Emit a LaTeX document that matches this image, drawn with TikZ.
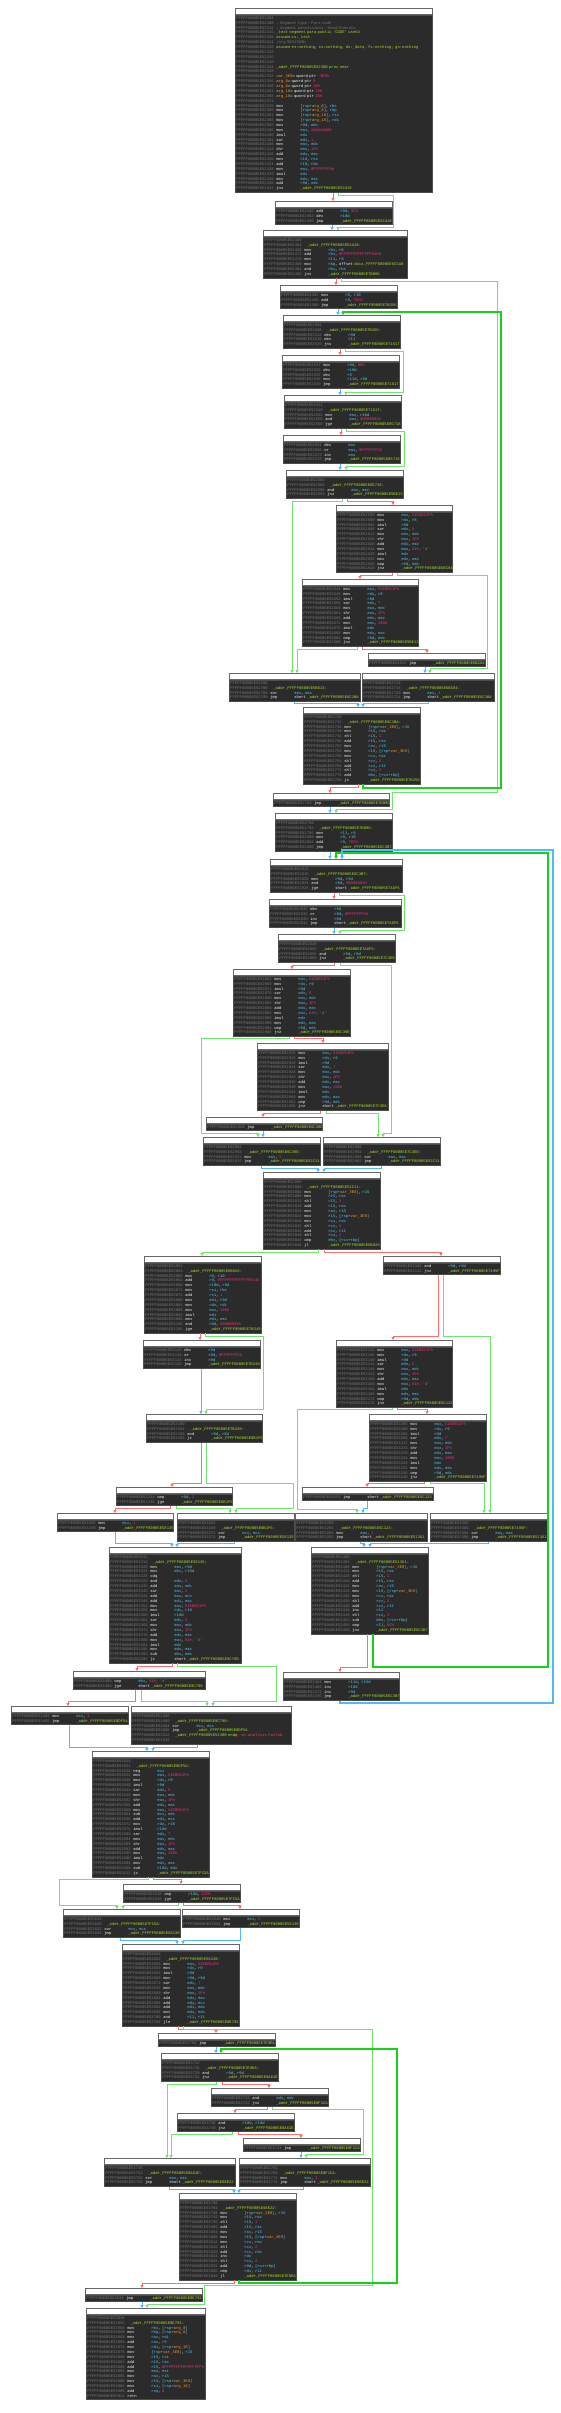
\documentclass[tikz,border=0pt]{standalone}
\usepackage{xcolor}
\usepackage{fontspec}
\setmonofont{Liberation Mono}
\usepackage{tikz}
\usetikzlibrary{arrows.meta}
\definecolor{codebg}{HTML}{2B2B2B}
\definecolor{adr}{HTML}{767676}
\definecolor{mnem}{HTML}{F0F0F0}
\definecolor{reg}{HTML}{52C8F5}
\definecolor{num}{HTML}{F0307A}
\definecolor{lbl}{HTML}{A6DC28}
\definecolor{var}{HTML}{FF9628}
\definecolor{cmtred}{HTML}{FF3C3C}
\definecolor{ered}{HTML}{FF6E6E}
\definecolor{egreen}{HTML}{6EE66E}
\definecolor{eloop}{HTML}{14D214}
\definecolor{eblue}{HTML}{50B9FF}

\newcommand\asmfont{\fontsize{3.9}{4.87}\selectfont\ttfamily}
\newcounter{lnum}
\newcommand\addrtxt{\stepcounter{lnum}\textcolor{adr}{FFFFF80005E5\the\numexpr2300+4*\value{lnum}\relax}}
\newcommand\Rg[1]{\textcolor{reg}{#1}}
\newcommand\Nm[1]{\textcolor{num}{#1}}
\newcommand\Vr[1]{\textcolor{var}{#1}}
\newcommand\Sp[1]{\Rg{[rsp+}\Vr{#1}\Rg{]}}
\newcommand\Ch[1]{\textcolor{adr}{ ; '#1'}}
\newcommand\Ad[1]{\textcolor{lbl}{\_addr\_FFFFF80005E#1}}
\newcommand\G{\mbox{\strut\addrtxt}}
\newcommand\In[2]{\mbox{\strut\makebox[40pt][l]{\addrtxt}\makebox[24pt][l]{\textcolor{mnem}{#1}}\textcolor{mnem}{#2}}}
\newcommand\Lb[1]{\mbox{\strut\makebox[43pt][l]{\addrtxt}\textcolor{lbl}{\_addr\_FFFFF80005E#1:}}}
\newcommand\Cm[1]{\mbox{\strut\makebox[40pt][l]{\addrtxt}\textcolor{adr}{#1}}}
\newcommand\Dr[1]{\mbox{\strut\makebox[40pt][l]{\addrtxt}\textcolor{lbl}{#1}}}
\newcommand\Dv[2]{\mbox{\strut\makebox[40pt][l]{\addrtxt}\textcolor{var}{#1}\textcolor{mnem}{= qword ptr }\textcolor{num}{#2}}}
\newcommand\Yr[5]{%
\In{mov}{\Rg{eax}, \Nm{51EB851Fh}}\\
\In{mov}{\Rg{rdx}, \Rg{#1}}\\
\In{imul}{\Rg{#2}}\\
\In{sar}{\Rg{edx}, \Nm{#3}}\\
\In{mov}{\Rg{eax}, \Rg{edx}}\\
\In{shr}{\Rg{eax}, \Nm{1Fh}}\\
\In{add}{\Rg{edx}, \Rg{eax}}\\
\In{mov}{\Rg{eax}, #4}\\
\In{imul}{\Rg{edx}}\\
\In{mov}{\Rg{edx}, \Rg{eax}}\\
\In{cmp}{\Rg{#2}, \Rg{edx}}\\
\In{jnz}{#5}}

\tikzset{
  titlebar/.style={draw=black!60, line width=0.6pt, fill=white, anchor=north west,
    minimum height=6pt, inner sep=0pt},
  blockbody/.style={draw=black!70, line width=0.7pt, fill=codebg, anchor=north west,
    inner xsep=1pt, inner ysep=1pt, align=left, font=\asmfont},
  redge/.style={->, draw=ered, line width=0.9pt},
  gedge/.style={->, draw=egreen, line width=0.9pt},
  bedge/.style={->, draw=eblue, line width=0.9pt},
  gloop/.style={->, draw=eloop, line width=1.5pt},
  bloop/.style={->, draw=eblue, line width=1.5pt}
}
\newcommand\blk[5]{%
  \node[titlebar, minimum width=#4pt] (#1h) at (#2,#3) {};
  \node[blockbody, text width=#4pt-2pt] (#1) at (#1h.south west) {#5};
}

\begin{document}
\begin{tikzpicture}[x=1pt, y=-1pt, >={Triangle[length=2.8pt,width=3pt]}, line join=miter]
  \fill[white] (0,0) rectangle (560,2413);
  \useasboundingbox (0,0) rectangle (560,2413);

  \blk{A}{235}{8}{197}{\G\\
    \Cm{; Segment type: Pure code}\\
    \Cm{; Segment permissions: Read/Execute}\\
    \Dr{\_text segment para public 'CODE' use64}\\
    \Dr{assume cs:\_text}\\
    \Cm{;org 5E52300h}\\
    \Dr{assume es:nothing, ss:nothing, ds:\_data, fs:nothing, gs:nothing}\\
    \G\\ \G\\ \G\\
    \Dr{\_addr\_FFFFF80005E52300 proc near}\\
    \G\\
    \Dv{var\_3E8}{-3E8h}\\
    \Dv{arg\_0}{ 8}\\
    \Dv{arg\_8}{ 10h}\\
    \Dv{arg\_10}{ 18h}\\
    \Dv{arg\_18}{ 20h}\\
    \G\\
    \In{mov}{\Sp{arg\_0}, \Rg{rbx}}\\
    \In{mov}{\Sp{arg\_8}, \Rg{rbp}}\\
    \In{mov}{\Sp{arg\_10}, \Rg{rsi}}\\
    \In{mov}{\Sp{arg\_18}, \Rg{rdi}}\\
    \In{mov}{\Rg{r9d}, \Rg{edx}}\\
    \In{mov}{\Rg{eax}, \Nm{2AAAAAABh}}\\
    \In{imul}{\Rg{edx}}\\
    \In{sar}{\Rg{edx}, \Nm{1}}\\
    \In{mov}{\Rg{eax}, \Rg{edx}}\\
    \In{shr}{\Rg{eax}, \Nm{1Fh}}\\
    \In{add}{\Rg{edx}, \Rg{eax}}\\
    \In{mov}{\Rg{r10}, \Rg{rcx}}\\
    \In{add}{\Rg{r10}, \Rg{rdx}}\\
    \In{mov}{\Rg{eax}, \Nm{0FFFFFFF4h}}\\
    \In{imul}{\Rg{edx}}\\
    \In{mov}{\Rg{edx}, \Rg{eax}}\\
    \In{add}{\Rg{r9d}, \Rg{edx}}\\
    \In{jns}{\Ad{52A18}}}
  \blk{B}{275}{201}{117}{\In{add}{\Rg{r9d}, \Nm{0Ch}}\\
    \In{dec}{\Rg{r10d}}\\
    \In{jmp}{\Ad{52A18}}}
  \blk{C}{263}{230}{144}{\G\\ \Lb{52A18}\\
    \In{mov}{\Rg{rbx}, \Rg{r8}}\\
    \In{add}{\Rg{rbx}, \Nm{0FFFFFFFFFFFFF830h}}\\
    \In{mov}{\Rg{r11}, \Rg{r9}}\\
    \In{mov}{\Rg{rbp}, offset \textcolor{lbl}{data\_FFFFF80005E6C5A0}}\\
    \In{and}{\Rg{rbx}, \Rg{rbx}}\\
    \In{jns}{\Ad{7B086}}}
  \blk{D}{280}{285}{117}{\In{mov}{\Rg{r8}, \Rg{r10}}\\
    \In{add}{\Rg{r8}, \Nm{7ECh}}\\
    \In{jmp}{\Ad{7B256}}}
  \blk{E}{283}{315}{117}{\G\\ \Lb{7B256}\\
    \In{dec}{\Rg{r9d}}\\
    \In{dec}{\Rg{r11}}\\
    \In{jns}{\Ad{71617}}}
  \blk{F}{282}{355}{117}{\In{mov}{\Rg{r9d}, \Nm{0Bh}}\\
    \In{dec}{\Rg{r10d}}\\
    \In{dec}{\Rg{r8}}\\
    \In{mov}{\Rg{r11d}, \Rg{r9d}}\\
    \In{jmp}{\Ad{71617}}}
  \blk{G}{284}{395}{117}{\G\\ \Lb{71617}\\
    \In{mov}{\Rg{eax}, \Rg{r10d}}\\
    \In{and}{\Rg{eax}, \Nm{80000003h}}\\
    \In{jge}{\Ad{05718}}}
  \blk{H}{283}{435}{117}{\In{dec}{\Rg{eax}}\\
    \In{or}{\Rg{eax}, \Nm{0FFFFFFFCh}}\\
    \In{inc}{\Rg{eax}}\\
    \In{jmp}{\Ad{05718}}}
  \blk{I}{286}{470}{117}{\G\\ \Lb{05718}\\
    \In{and}{\Rg{eax}, \Rg{eax}}\\
    \In{jnz}{\Ad{5BE13}}}
  \blk{J}{336}{505}{116}{\Yr{r8}{r8d}{5}{\Nm{64h}\Ch{d}}{\Ad{6BC84}}}
  \blk{K}{302}{579}{116}{\Yr{r8}{r8d}{7}{\Nm{190h}}{\Ad{5BE13}}}
  \blk{K2}{368}{653}{117}{\In{jmp}{\Ad{6BC84}}}
  \blk{L}{229}{673}{131}{\G\\ \Lb{5BE13}\\
    \In{xor}{\Rg{eax}, \Rg{eax}}\\
    \In{jmp}{short \Ad{6C1BA}}}
  \blk{M}{362}{673}{132}{\G\\ \Lb{6BC84}\\
    \In{mov}{\Rg{eax}, \Nm{1}}\\
    \In{jmp}{short \Ad{6C1BA}}}
  \blk{N}{303}{707}{117}{\G\\ \Lb{6C1BA}\\
    \In{mov}{\Sp{var\_3E8}, \Rg{r15}}\\
    \In{mov}{\Rg{r15}, \Rg{rax}}\\
    \In{shl}{\Rg{r15}, \Nm{1}}\\
    \In{add}{\Rg{r15}, \Rg{rax}}\\
    \In{mov}{\Rg{rax}, \Rg{r15}}\\
    \In{mov}{\Rg{r15}, \Sp{var\_3E8}}\\
    \In{mov}{\Rg{rcx}, \Rg{rax}}\\
    \In{shl}{\Rg{rcx}, \Nm{2}}\\
    \In{add}{\Rg{rcx}, \Rg{r11}}\\
    \In{shl}{\Rg{rcx}, \Nm{2}}\\
    \In{add}{\Rg{ebx}, \Rg{[rcx+rbp]}}\\
    \In{js}{\Ad{7B256}}}
  \blk{O}{273}{793}{116}{\In{jmp}{\Ad{7B086}}}
  \blk{P}{275}{813}{117}{\G\\ \Lb{7B086}\\
    \In{mov}{\Rg{r11}, \Rg{r9}}\\
    \In{mov}{\Rg{r9}, \Rg{r10}}\\
    \In{add}{\Rg{r9}, \Nm{7ECh}}\\
    \In{jmp}{\Ad{6C3B7}}}
  \blk{Q}{270}{859}{132}{\G\\ \Lb{6C3B7}\\
    \In{mov}{\Rg{r8d}, \Rg{r9d}}\\
    \In{and}{\Rg{r8d}, \Nm{80000003h}}\\
    \In{jge}{short \Ad{7A6F6}}}
  \blk{R}{269}{899}{132}{\In{dec}{\Rg{r8d}}\\
    \In{or}{\Rg{r8d}, \Nm{0FFFFFFFCh}}\\
    \In{inc}{\Rg{r8d}}\\
    \In{jmp}{short \Ad{7A6F6}}}
  \blk{S}{278}{934}{117}{\G\\ \Lb{7A6F6}\\
    \In{and}{\Rg{r8d}, \Rg{r8d}}\\
    \In{jnz}{\Ad{7C3E8}}}
  \blk{T}{233}{969}{117}{\Yr{r9}{r9d}{5}{\Nm{64h}\Ch{d}}{\Ad{6C39E}}}
  \blk{U}{257}{1043}{131}{\Yr{r9}{r9d}{7}{\Nm{190h}}{short \Ad{7C3E8}}}
  \blk{U2}{206}{1117}{116}{\In{jmp}{\Ad{6C39E}}}
  \blk{V1}{203}{1137}{117}{\G\\ \Lb{6C39E}\\
    \In{mov}{\Rg{eax}, \Nm{1}}\\
    \In{jmp}{\Ad{52C11}}}
  \blk{W2}{323}{1137}{117}{\G\\ \Lb{7C3E8}\\
    \In{xor}{\Rg{eax}, \Rg{eax}}\\
    \In{jmp}{\Ad{52C11}}}
  \blk{X}{263}{1172}{117}{\G\\ \Lb{52C11}\\
    \In{mov}{\Sp{var\_3E8}, \Rg{r15}}\\
    \In{mov}{\Rg{r15}, \Rg{rax}}\\
    \In{shl}{\Rg{r15}, \Nm{1}}\\
    \In{add}{\Rg{r15}, \Rg{rax}}\\
    \In{mov}{\Rg{rax}, \Rg{r15}}\\
    \In{mov}{\Rg{r15}, \Sp{var\_3E8}}\\
    \In{mov}{\Rg{rcx}, \Rg{rax}}\\
    \In{shl}{\Rg{rcx}, \Nm{2}}\\
    \In{add}{\Rg{rcx}, \Rg{r11}}\\
    \In{shl}{\Rg{rcx}, \Nm{2}}\\
    \In{cmp}{\Rg{ebx}, \Rg{[rcx+rbp]}}\\
    \In{jl}{\Ad{6B826}}}
  \blk{Y1}{144}{1256}{117}{\G\\ \Lb{6B826}\\
    \In{mov}{\Rg{r9}, \Rg{r10}}\\
    \In{add}{\Rg{r9}, \Nm{0FFFFFFFFFFFFF814h}}\\
    \In{mov}{\Rg{r10d}, \Rg{r9d}}\\
    \In{mov}{\Rg{rsi}, \Rg{rbx}}\\
    \In{add}{\Rg{rsi}, \Nm{1}}\\
    \In{mov}{\Rg{edi}, \Rg{r9d}}\\
    \In{mov}{\Rg{rdx}, \Rg{rdi}}\\
    \In{mov}{\Rg{eax}, \Nm{190h}}\\
    \In{imul}{\Rg{edi}}\\
    \In{mov}{\Rg{edi}, \Rg{eax}}\\
    \In{and}{\Rg{r8d}, \Nm{80000003h}}\\
    \In{jge}{\Ad{7B249}}}
  \blk{Y2}{383}{1256}{117}{\In{and}{\Rg{r9d}, \Rg{r9d}}\\
    \In{jnz}{\Ad{7495F}}}
  \blk{Y3}{143}{1340}{117}{\In{dec}{\Rg{r8d}}\\
    \In{or}{\Rg{r8d}, \Nm{0FFFFFFFCh}}\\
    \In{inc}{\Rg{r8d}}\\
    \In{jmp}{\Ad{7B249}}}
  \blk{Z1}{336}{1340}{116}{\Yr{r9}{r9d}{5}{\Nm{64h}\Ch{d}}{\Ad{5C123}}}
  \blk{Y4}{146}{1414}{116}{\G\\ \Lb{7B249}\\
    \In{and}{\Rg{r8d}, \Rg{r8d}}\\
    \In{jz}{\Ad{0B1F6}}}
  \blk{Z2}{369}{1414}{117}{\Yr{r9}{r9d}{7}{\Nm{190h}}{\Ad{7495F}}}
  \blk{Va}{116}{1487}{116}{\In{cmp}{\Rg{r8d}, \Nm{2}}\\
    \In{jge}{\Ad{0B1F6}}}
  \blk{Z3}{302}{1487}{131}{\In{jmp}{short \Ad{5C123}}}
  \blk{W1}{57}{1513}{116}{\In{mov}{\Rg{ecx}, \Nm{1}}\\
    \In{jmp}{\Ad{58135}}}
  \blk{W2b}{177}{1513}{117}{\G\\ \Lb{0B1F6}\\
    \In{xor}{\Rg{ecx}, \Rg{ecx}}\\
    \In{jmp}{\Ad{58135}}}
  \blk{Z5}{295}{1513}{132}{\G\\ \Lb{5C123}\\
    \In{mov}{\Rg{eax}, \Nm{1}}\\
    \In{jmp}{short \Ad{51361}}}
  \blk{Z6}{430}{1513}{117}{\G\\ \Lb{7495F}\\
    \In{xor}{\Rg{eax}, \Rg{eax}}\\
    \In{jmp}{\Ad{51361}}}
  \blk{X2}{109}{1547}{132}{\G\\ \Lb{58135}\\
    \In{mov}{\Rg{eax}, \Rg{r9d}}\\
    \In{mov}{\Rg{ebx}, \Rg{r10d}}\\
    \In{cdq}{}\\
    \In{and}{\Rg{edx}, \Nm{3}}\\
    \In{add}{\Rg{eax}, \Rg{edx}}\\
    \In{sar}{\Rg{eax}, \Nm{2}}\\
    \In{add}{\Rg{eax}, \Rg{ecx}}\\
    \In{add}{\Rg{edi}, \Rg{eax}}\\
    \In{mov}{\Rg{eax}, \Nm{51EB851Fh}}\\
    \In{mov}{\Rg{rdx}, \Rg{r10}}\\
    \In{imul}{\Rg{r10d}}\\
    \In{sar}{\Rg{edx}, \Nm{5}}\\
    \In{mov}{\Rg{eax}, \Rg{edx}}\\
    \In{shr}{\Rg{eax}, \Nm{1Fh}}\\
    \In{add}{\Rg{edx}, \Rg{eax}}\\
    \In{mov}{\Rg{eax}, \Nm{64h}\Ch{d}}\\
    \In{imul}{\Rg{edx}}\\
    \In{mov}{\Rg{edx}, \Rg{eax}}\\
    \In{sub}{\Rg{ebx}, \Rg{edx}}\\
    \In{jz}{short \Ad{9C790}}}
  \blk{X3}{311}{1547}{117}{\G\\ \Lb{51361}\\
    \In{mov}{\Sp{var\_3E8}, \Rg{r15}}\\
    \In{mov}{\Rg{r15}, \Rg{rax}}\\
    \In{shl}{\Rg{r15}, \Nm{1}}\\
    \In{add}{\Rg{r15}, \Rg{rax}}\\
    \In{mov}{\Rg{rax}, \Rg{r15}}\\
    \In{mov}{\Rg{r15}, \Sp{var\_3E8}}\\
    \In{mov}{\Rg{rcx}, \Rg{rax}}\\
    \In{shl}{\Rg{rcx}, \Nm{2}}\\
    \In{add}{\Rg{rcx}, \Rg{r11}}\\
    \In{inc}{\Rg{r11}}\\
    \In{shl}{\Rg{rcx}, \Nm{2}}\\
    \In{sub}{\Rg{ebx}, \Rg{[rcx+rbp]}}\\
    \In{cmp}{\Rg{r11}, \Nm{0Ch}}\\
    \In{jnz}{\Ad{6C3B7}}}
  \blk{X4}{283}{1672}{116}{\In{mov}{\Rg{r11d}, \Rg{r15d}}\\
    \In{inc}{\Rg{r10d}}\\
    \In{inc}{\Rg{r9d}}\\
    \In{jmp}{\Ad{6C3B7}}}
  \blk{X5}{73}{1671}{132}{\In{cmp}{\Rg{ebx}, \Nm{64h}\Ch{d}}\\
    \In{jge}{short \Ad{9C790}}}
  \blk{X6}{11}{1706}{117}{\In{mov}{\Rg{ecx}, \Nm{1}}\\
    \In{jmp}{\Ad{0DF5A}}}
  \blk{X7}{131}{1706}{160}{\G\\ \Lb{9C790}\\
    \In{xor}{\Rg{ecx}, \Rg{ecx}}\\
    \In{jmp}{\Ad{0DF5A}}\\
    \mbox{\strut\makebox[43pt][l]{\addrtxt}\textcolor{lbl}{\_addr\_FFFFF80005E52300 endp}\textcolor{cmtred}{ ; sp-analysis failed}}\\
    \G}
  \blk{X8}{92}{1751}{117}{\G\\ \Lb{0DF5A}\\
    \In{neg}{\Rg{ecx}}\\
    \In{mov}{\Rg{eax}, \Nm{51EB851Fh}}\\
    \In{mov}{\Rg{rdx}, \Rg{r9}}\\
    \In{imul}{\Rg{r9d}}\\
    \In{sar}{\Rg{edx}, \Nm{5}}\\
    \In{mov}{\Rg{eax}, \Rg{edx}}\\
    \In{shr}{\Rg{eax}, \Nm{1Fh}}\\
    \In{add}{\Rg{edx}, \Rg{eax}}\\
    \In{mov}{\Rg{eax}, \Nm{51EB851Fh}}\\
    \In{sub}{\Rg{ecx}, \Rg{edx}}\\
    \In{add}{\Rg{edi}, \Rg{ecx}}\\
    \In{mov}{\Rg{rdx}, \Rg{r10}}\\
    \In{imul}{\Rg{r10d}}\\
    \In{sar}{\Rg{edx}, \Nm{7}}\\
    \In{mov}{\Rg{eax}, \Rg{edx}}\\
    \In{shr}{\Rg{eax}, \Nm{1Fh}}\\
    \In{add}{\Rg{edx}, \Rg{eax}}\\
    \In{mov}{\Rg{eax}, \Nm{190h}}\\
    \In{imul}{\Rg{edx}}\\
    \In{mov}{\Rg{edx}, \Rg{eax}}\\
    \In{sub}{\Rg{r10d}, \Rg{edx}}\\
    \In{jz}{\Ad{7FC5A}}}
  \blk{X9}{123}{1884}{117}{\In{cmp}{\Rg{r10d}, \Nm{12Ch}}\\
    \In{jge}{\Ad{7FC5A}}}
  \blk{X10}{63}{1909}{117}{\G\\ \Lb{7FC5A}\\
    \In{xor}{\Rg{ecx}, \Rg{ecx}}\\
    \In{jmp}{\Ad{58138}}}
  \blk{X11}{182}{1909}{117}{\In{mov}{\Rg{ecx}, \Nm{1}}\\
    \In{jmp}{\Ad{58138}}}
  \blk{AA}{122}{1944}{117}{\G\\ \Lb{58138}\\
    \In{mov}{\Rg{eax}, \Nm{51EB851Fh}}\\
    \In{mov}{\Rg{rdx}, \Rg{r9}}\\
    \In{imul}{\Rg{r9d}}\\
    \In{mov}{\Rg{r9d}, \Rg{r9d}}\\
    \In{sar}{\Rg{edx}, \Nm{7}}\\
    \In{mov}{\Rg{eax}, \Rg{edx}}\\
    \In{shr}{\Rg{eax}, \Nm{1Fh}}\\
    \In{add}{\Rg{edx}, \Rg{eax}}\\
    \In{add}{\Rg{edx}, \Rg{ecx}}\\
    \In{add}{\Rg{edi}, \Rg{edx}}\\
    \In{mov}{\Rg{edx}, \Rg{edx}}\\
    \In{and}{\Rg{r11}, \Rg{r11}}\\
    \In{jle}{\Ad{0E792}}}
  \blk{AB}{158}{2033}{117}{\In{jmp}{\Ad{7E9EA}}}
  \blk{AC}{161}{2053}{117}{\G\\ \Lb{7E9EA}\\
    \In{and}{\Rg{r9d}, \Rg{r9d}}\\
    \In{jnz}{\Ad{0A61E}}}
  \blk{AD}{211}{2088}{117}{\In{and}{\Rg{edx}, \Rg{edx}}\\
    \In{jnz}{\Ad{0F1CA}}}
  \blk{AD2}{177}{2113}{117}{\In{and}{\Rg{r10d}, \Rg{r10d}}\\
    \In{jnz}{\Ad{0A61E}}}
  \blk{AD3}{243}{2138}{117}{\In{jmp}{\Ad{0F1CA}}}
  \blk{AE1}{104}{2158}{131}{\G\\ \Lb{0A61E}\\
    \In{xor}{\Rg{eax}, \Rg{eax}}\\
    \In{jmp}{short \Ad{98E22}}}
  \blk{AE2}{239}{2158}{131}{\G\\ \Lb{0F1CA}\\
    \In{mov}{\Rg{eax}, \Nm{1}}\\
    \In{jmp}{short \Ad{98E22}}}
  \blk{AF}{179}{2193}{117}{\G\\ \Lb{98E22}\\
    \In{mov}{\Sp{var\_3E8}, \Rg{r15}}\\
    \In{mov}{\Rg{r15}, \Rg{rax}}\\
    \In{shl}{\Rg{r15}, \Nm{1}}\\
    \In{add}{\Rg{r15}, \Rg{rax}}\\
    \In{mov}{\Rg{rax}, \Rg{r15}}\\
    \In{mov}{\Rg{r15}, \Sp{var\_3E8}}\\
    \In{mov}{\Rg{rcx}, \Rg{rax}}\\
    \In{shl}{\Rg{rcx}, \Nm{2}}\\
    \In{add}{\Rg{rcx}, \Rg{rdx}}\\
    \In{inc}{\Rg{rdx}}\\
    \In{shl}{\Rg{rcx}, \Nm{2}}\\
    \In{add}{\Rg{r9d}, \Rg{[rcx+rbp]}}\\
    \In{cmp}{\Rg{rdx}, \Rg{r11}}\\
    \In{jl}{\Ad{7E9EA}}}
  \blk{AG}{85}{2288}{117}{\In{jmp}{\Ad{0E792}}}
  \blk{AH}{86}{2308}{119}{\G\\ \Lb{0E792}\\
    \In{mov}{\Rg{rbx}, \Sp{arg\_0}}\\
    \In{mov}{\Rg{rbp}, \Sp{arg\_8}}\\
    \In{mov}{\Rg{rax}, \Rg{rdi}}\\
    \In{add}{\Rg{rax}, \Rg{r9}}\\
    \In{mov}{\Rg{rdi}, \Sp{arg\_18}}\\
    \In{mov}{\Sp{var\_3E8}, \Rg{r15}}\\
    \In{mov}{\Rg{r15}, \Rg{rsi}}\\
    \In{add}{\Rg{r15}, \Rg{rax}}\\
    \In{add}{\Rg{r15}, \Nm{0FFFFFFFFFFFFFFFFh}}\\
    \In{mov}{\Rg{eax}, \Rg{esi}}\\
    \In{mov}{\Rg{rax}, \Rg{r15}}\\
    \In{mov}{\Rg{r15}, \Sp{var\_3E8}}\\
    \In{mov}{\Rg{rsi}, \Sp{arg\_10}}\\
    \In{add}{\Rg{rsp}, \Nm{8}}\\
    \In{retn}{}}

  \draw[redge] (A.south -| 333,0) -- (Bh.north -| 333,0);
  \draw[gedge] (A.south -| 338,0) |- (393,195) |- (338,227) -- (Ch.north -| 338,0);
  \draw[bedge] (B.south -| 332,0) -- (Ch.north -| 332,0);
  \draw[redge] (C.south -| 336,0) -- (Dh.north -| 336,0);
  \draw[gedge] (C.south -| 341,0) |- (497,281) |- (392,792) |- (336,809) -- (Ph.north -| 336,0);
  \draw[bedge] (D.south -| 338,0) -- (Eh.north -| 338,0);
  \draw[redge] (E.south -| 340,0) -- (Fh.north -| 340,0);
  \draw[gedge] (E.south -| 345,0) |- (403,351) |- (346,392) -- (Gh.north -| 346,0);
  \draw[bedge] (F.south -| 340,0) -- (Gh.north -| 340,0);
  \draw[redge] (G.south -| 341,0) -- (Hh.north -| 341,0);
  \draw[gedge] (G.south -| 346,0) |- (404,431) |- (346,466) -- (Ih.north -| 346,0);
  \draw[bedge] (H.south -| 340,0) -- (Ih.north -| 340,0);
  \draw[gedge] (I.south -| 342,0) |- (292,501) -- (Lh.north -| 292,0);
  \draw[redge] (I.south -| 347,0) |- (393,501) -- (Jh.north -| 393,0);
  \draw[redge] (J.south -| 392,0) |- (360,575) -- (Kh.north -| 360,0);
  \draw[gedge] (J.south -| 397,0) |- (487,575) |- (430,668) -- (Mh.north -| 430,0);
  \draw[gedge] (K.south -| 357,0) |- (297,649) -- (Lh.north -| 297,0);
  \draw[redge] (K.south -| 362,0) |- (427,649) -- (K2h.north -| 427,0);
  \draw[bedge] (K2.south -| 425,0) -- (Mh.north -| 425,0);
  \draw[bedge] (L.south -| 294,0) |- (358,703) -- (Nh.north -| 358,0);
  \draw[bedge] (M.south -| 428,0) |- (363,703) -- (Nh.north -| 363,0);
  \draw[redge] (N.south -| 358,0) |- (330,787) -- (Oh.north -| 330,0);
  \draw[gloop] (N.south -| 363,0) |- (501,788) |- (343,312) -- (Eh.north -| 343,0);
  \draw[bedge] (O.south -| 330,0) -- (Ph.north -| 330,0);
  \draw[bedge] (P.south -| 330,0) -- (Qh.north -| 330,0);
  \draw[redge] (Q.south -| 334,0) -- (Rh.north -| 334,0);
  \draw[gedge] (Q.south -| 339,0) |- (404,895) |- (340,930) -- (Sh.north -| 340,0);
  \draw[bedge] (R.south -| 334,0) -- (Sh.north -| 334,0);
  \draw[redge] (S.south -| 334,0) |- (292,965) -- (Th.north -| 292,0);
  \draw[gedge] (S.south -| 340,0) |- (391,965) |- (383,1133) -- (W2h.north -| 383,0);
  \draw[gedge] (T.south -| 289,0) |- (201,1038) |- (258,1133) -- (V1h.north -| 258,0);
  \draw[redge] (T.south -| 294,0) |- (323,1038) -- (Uh.north -| 323,0);
  \draw[redge] (U.south -| 320,0) |- (263,1113) -- (U2h.north -| 263,0);
  \draw[gedge] (U.south -| 326,0) |- (378,1113) -- (W2h.north -| 378,0);
  \draw[bedge] (U2.south -| 263,0) -- (V1h.north -| 263,0);
  \draw[bedge] (V1.south -| 261,0) |- (318,1168) -- (Xh.north -| 318,0);
  \draw[bedge] (W2.south -| 381,0) |- (324,1168) -- (Xh.north -| 324,0);
  \draw[gedge] (X.south -| 318,0) |- (202,1252) -- (Y1h.north -| 202,0);
  \draw[redge] (X.south -| 324,0) |- (441,1252) -- (Y2h.north -| 441,0);
  \draw[redge] (Y1.south -| 200,0) -- (Y3h.north -| 200,0);
  \draw[gedge] (Y1.south -| 205,0) |- (263,1336) |- (206,1409) -- (Y4h.north -| 206,0);
  \draw[redge] (Y2.south -| 438,0) |- (393,1336) -- (Z1h.north -| 393,0);
  \draw[gedge] (Y2.south -| 443,0) |- (490,1336) -- (Z6h.north -| 490,0);
  \draw[bedge] (Y3.south -| 201,0) -- (Y4h.north -| 201,0);
  \draw[gedge] (Z1.south -| 392,0) |- (297,1409) |- (357,1509) -- (Z5h.north -| 357,0);
  \draw[redge] (Z1.south -| 397,0) |- (427,1409) -- (Z2h.north -| 427,0);
  \draw[redge] (Y4.south -| 201,0) |- (172,1483) -- (Vah.north -| 172,0);
  \draw[gedge] (Y4.south -| 206,0) |- (293,1483) |- (236,1508) -- (W2bh.north -| 236,0);
  \draw[redge] (Z2.south -| 424,0) |- (367,1483) -- (Z3h.north -| 367,0);
  \draw[gedge] (Z2.south -| 430,0) |- (484,1483) -- (Z6h.north -| 484,0);
  \draw[redge] (Va.south -| 170,0) |- (115,1508) -- (W1h.north -| 115,0);
  \draw[gedge] (Va.south -| 176,0) |- (230,1508) -- (W2bh.north -| 230,0);
  \draw[bedge] (Z3.south -| 367,0) |- (363,1508) -- (Z5h.north -| 363,0);
  \draw[bedge] (W1.south -| 115,0) |- (172,1543) -- (X2h.north -| 172,0);
  \draw[bedge] (W2b.south -| 234,0) |- (177,1543) -- (X2h.north -| 177,0);
  \draw[bedge] (Z5.south -| 360,0) |- (364,1543) -- (X3h.north -| 364,0);
  \draw[bedge] (Z6.south -| 488,0) |- (370,1543) -- (X3h.north -| 370,0);
  \draw[redge] (X2.south -| 172,0) |- (137,1666) -- (X5h.north -| 137,0);
  \draw[gedge] (X2.south -| 177,0) |- (276,1666) |- (213,1701) -- (X7h.north -| 213,0);
  \draw[redge] (X3.south -| 367,0) |- (340,1667) -- (X4h.north -| 340,0);
  \draw[gloop] (X3.south -| 373,0) |- (548,1667) |- (336,853) -- (Qh.north -| 336,0);
  \draw[bloop] (X4.south -| 340,0) |- (553,1703) |- (342,850) -- (Qh.north -| 342,0);
  \draw[redge] (X5.south -| 135,0) |- (68,1701) -- (X6h.north -| 68,0);
  \draw[gedge] (X5.south -| 141,0) |- (207,1701) -- (X7h.north -| 207,0);
  \draw[bedge] (X6.south -| 69,0) |- (147,1747) -- (X8h.north -| 147,0);
  \draw[bedge] (X7.south -| 197,0) |- (153,1747) -- (X8h.north -| 153,0);
  \draw[gedge] (X8.south -| 148,0) |- (59,1879) |- (117,1905) -- (X10h.north -| 117,0);
  \draw[redge] (X8.south -| 153,0) |- (181,1879) -- (X9h.north -| 181,0);
  \draw[gedge] (X9.south -| 178,0) |- (123,1905) -- (X10h.north -| 123,0);
  \draw[redge] (X9.south -| 183,0) |- (240,1905) -- (X11h.north -| 240,0);
  \draw[bedge] (X10.south -| 120,0) |- (177,1940) -- (AAh.north -| 177,0);
  \draw[bedge] (X11.south -| 240,0) |- (183,1940) -- (AAh.north -| 183,0);
  \draw[redge] (AA.south -| 178,0) |- (216,2029) -- (ABh.north -| 216,0);
  \draw[gedge] (AA.south -| 183,0) |- (372,2029) |- (204,2285) |- (147,2304) -- (AHh.north -| 147,0);
  \draw[bedge] (AB.south -| 216,0) -- (ACh.north -| 216,0);
  \draw[gedge] (AC.south -| 216,0) |- (167,2084) -- (AE1h.north -| 167,0);
  \draw[redge] (AC.south -| 222,0) |- (269,2084) -- (ADh.north -| 269,0);
  \draw[redge] (AD.south -| 267,0) |- (235,2109) -- (AD2h.north -| 235,0);
  \draw[gedge] (AD.south -| 272,0) |- (363,2109) |- (306,2154) -- (AE2h.north -| 306,0);
  \draw[gedge] (AD2.south -| 232,0) |- (171,2134) -- (AE1h.north -| 171,0);
  \draw[redge] (AD2.south -| 238,0) |- (301,2134) -- (AD3h.north -| 301,0);
  \draw[bedge] (AD3.south -| 301,0) -- (AE2h.north -| 301,0);
  \draw[bedge] (AE1.south -| 169,0) |- (234,2189) -- (AFh.north -| 234,0);
  \draw[bedge] (AE2.south -| 303,0) |- (239,2189) -- (AFh.north -| 239,0);
  \draw[redge] (AF.south -| 234,0) |- (142,2283) -- (AGh.north -| 142,0);
  \draw[gloop] (AF.south -| 239,0) |- (397,2283) |- (221,2049) -- (ACh.north -| 221,0);
  \draw[bedge] (AG.south -| 142,0) -- (AHh.north -| 142,0);
\end{tikzpicture}
\end{document}
